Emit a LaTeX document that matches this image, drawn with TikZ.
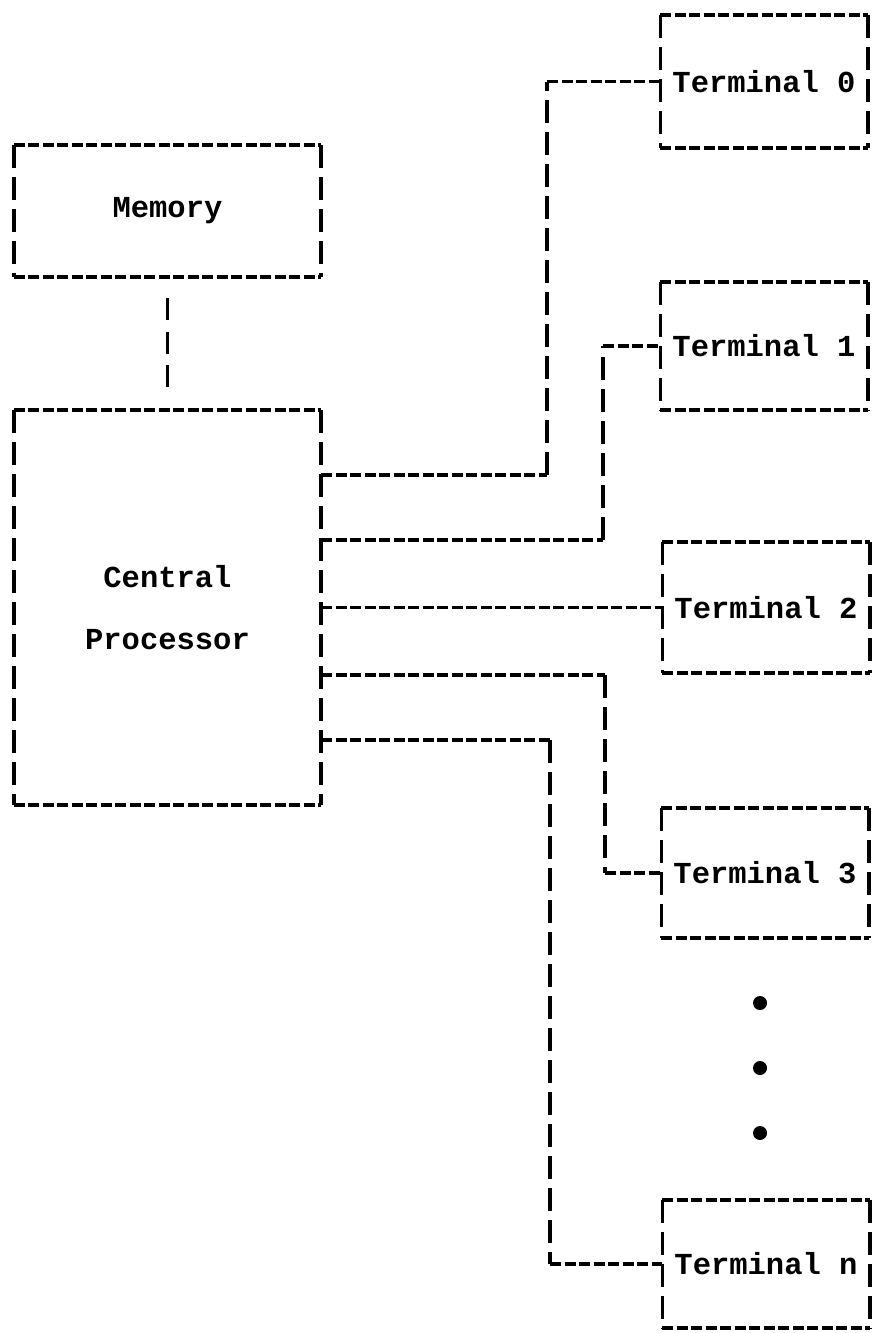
\documentclass[tikz,border=0pt]{standalone}
\usepackage{fontspec}
\setmonofont{Liberation Mono}
\newcommand\tdbox[1]{%
  \draw[hd] (#1.north west) -- (#1.north east) (#1.south west) -- (#1.south east);
  \draw[vd] (#1.north west) -- (#1.south west) (#1.north east) -- (#1.south east);}
\begin{document}
\begin{tikzpicture}[x=1pt,y=-1pt,
  hd/.style={line width=3.6pt,dash pattern=on 11pt off 3.5pt},
  vd/.style={line width=3.6pt,dash pattern=on 23pt off 9pt},
  lbl/.style={font=\fontsize{30.5}{62}\selectfont\ttfamily\bfseries,inner sep=0pt,align=center},
  blk/.style={lbl,minimum width=307pt},
  term/.style={lbl,minimum width=207pt},
  dotmark/.style={circle,fill=black,inner sep=0pt,minimum size=14pt}]
\useasboundingbox (0,0) rectangle (872,1333);
% blocks
\node[blk,minimum height=132pt] (mem) at (167.5,211) {Memory};
\node[blk,minimum height=395pt] (cpu) at (167.5,607.5) {Central\\Processor};
\node[term,minimum height=133pt] (t0) at (764,81.5) {Terminal 0};
\node[term,minimum height=128pt] (t1) at (764,346) {Terminal 1};
\node[term,minimum height=131pt] (t2) at (766,607.5) {Terminal 2};
\node[term,minimum height=130pt] (t3) at (765,873) {Terminal 3};
\node[term,minimum height=128pt] (tn) at (766,1264) {Terminal n};
\foreach \b in {mem,cpu,t0,t1,t2,t3,tn}{\tdbox{\b}}
% dots
\node[dotmark] (d1) at (760,1003) {};
\node[dotmark] (d2) at (760,1068) {};
\node[dotmark] (d3) at (760,1133) {};
% memory link
\draw[line width=3.6pt,dash pattern=on 22pt off 11.5pt,shorten <=21pt,shorten >=22pt] (mem.south) -- (cpu.north);
% connectors
\coordinate (k0) at (547,475);
\coordinate (k1) at (603,540);
\coordinate (k3) at (605,675);
\coordinate (kn) at (550,740);
\draw[hd] (k0 -| cpu.east) -- (k0);
\draw[vd] (k0) -- (k0 |- t0.west);
\draw[hd] (k0 |- t0.west) -- (t0.west);
\draw[hd] (k1 -| cpu.east) -- (k1);
\draw[vd] (k1) -- (k1 |- t1.west);
\draw[hd] (k1 |- t1.west) -- (t1.west);
\draw[hd] (cpu.east) -- (t2.west);
\draw[hd] (k3 -| cpu.east) -- (k3);
\draw[vd] (k3) -- (k3 |- t3.west);
\draw[hd] (k3 |- t3.west) -- (t3.west);
\draw[hd] (kn -| cpu.east) -- (kn);
\draw[vd] (kn) -- (kn |- tn.west);
\draw[hd] (kn |- tn.west) -- (tn.west);
\end{tikzpicture}
\end{document}
